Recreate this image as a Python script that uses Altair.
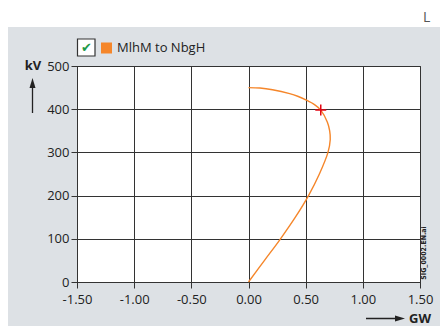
import json
import altair as alt
import pandas as pd

# ---- data ----
SERIES = ["MlhM to NbgH"]
GW = [0.00, 0.10, 0.21, 0.36, 0.43, 0.506, 0.58, 0.632, 0.69, 0.71, 0.715,
      0.695, 0.62, 0.525, 0.41, 0.28, 0.14, 0.00]
KV = [450, 449, 445, 436, 430, 421, 410, 398, 370, 350, 330,
      300, 250, 200, 150, 100, 50, 0]
MARK_GW = [0.632]
MARK_KV = [398]

X_TICK_VALUES = [-1.5, -1.25, -1.0, -0.75, -0.5, -0.25, 0.0, 0.25, 0.5, 0.75, 1.0, 1.25, 1.5]
X_TICK_LABELS = ["-1.50", "", "-1.00", "", "-0.50", "", "0.00", "", "0.50", "", "1.00", "", "1.50"]
Y_TICK_VALUES = [0, 100, 200, 300, 400, 500]

X_TITLE = "GW"
Y_TITLE = "kV"
SIDE_NOTE = "SIG_0002.EN.ai"
CORNER = "L"

FONT = "Open Sans"
ORANGE = "#f5862a"
GREY_BG = "#dde1e5"
DARK = "#333333"

curve = pd.DataFrame({"gw": GW, "kv": KV, "order": range(len(GW)), "series": SERIES[0]})
marker = pd.DataFrame({"gw": MARK_GW, "kv": MARK_KV})
one = pd.DataFrame({"k": [0]})

xscale = alt.Scale(domain=[-1.5, 1.5], nice=False, zero=False)
yscale = alt.Scale(domain=[0, 500], nice=False)

label_expr = f"{json.dumps(X_TICK_LABELS)}[indexof({json.dumps(X_TICK_VALUES)}, datum.value)]"

xaxis = alt.Axis(
    values=X_TICK_VALUES, labelExpr=label_expr, title=None,
    grid=True, gridColor=DARK, gridWidth=1,
    gridOpacity={"condition": {"test": "datum.value % 0.5 != 0", "value": 0}, "value": 1},
    tickSize=6, tickColor=DARK, domainColor=DARK,
    labelFont=FONT, labelFontSize=13, labelColor="#222222", labelPadding=5,
    labelFlush=False, labelOverlap=False,
)
yaxis = alt.Axis(
    values=Y_TICK_VALUES, title=None, format="d",
    grid=True, gridColor=DARK, gridWidth=1,
    tickSize=6, tickColor=DARK, domainColor=DARK,
    labelFont=FONT, labelFontSize=13, labelColor="#222222", labelPadding=2,
)

line = alt.Chart(curve).mark_line(
    color=ORANGE, strokeWidth=1.4, interpolate="catmull-rom"
).encode(
    x=alt.X("gw:Q", scale=xscale, axis=xaxis),
    y=alt.Y("kv:Q", scale=yscale, axis=yaxis),
    order="order:O",
)

cross = alt.Chart(marker).mark_point(
    shape="M-1,0L1,0M0,-1L0,1", size=121, filled=False,
    stroke="#e30613", strokeWidth=1.5, opacity=1,
).encode(x=alt.X("gw:Q", scale=xscale), y=alt.Y("kv:Q", scale=yscale))

# top white strip above the grey panel
strip = alt.Chart(one).mark_rect(color="white").encode(
    x=alt.value(-69), x2=alt.value(363), y=alt.value(-58), y2=alt.value(-39)
)
corner = alt.Chart(one).mark_text(
    text=CORNER, font=FONT, fontSize=14, color="#555555", align="left", baseline="middle"
).encode(x=alt.value(346), y=alt.value(-48))

# legend: checkbox, swatch, label
box = alt.Chart(one).mark_rect(fill="white", stroke=DARK, strokeWidth=1.2).encode(
    x=alt.value(0.5), x2=alt.value(18), y=alt.value(-27), y2=alt.value(-10)
)
check = alt.Chart(one).mark_text(
    text="\u2714", font="DejaVu Sans", fontSize=13, color="#1d9a48",
    align="center", baseline="middle"
).encode(x=alt.value(9.5), y=alt.value(-18))
swatch = alt.Chart(one).mark_square(size=121, color=ORANGE, opacity=1).encode(
    x=alt.value(29.5), y=alt.value(-18)
)
leg_text = alt.Chart(one).mark_text(
    text=SERIES[0], font=FONT, fontSize=13, color="#222222", align="left", baseline="middle"
).encode(x=alt.value(40), y=alt.value(-18.5))

# axis titles with arrows
ktitle = alt.Chart(one).mark_text(
    text=Y_TITLE, font=FONT, fontSize=13, fontWeight="bold", color="#222222",
    align="center", baseline="middle"
).encode(x=alt.value(-44), y=alt.value(0))
up_shaft = alt.Chart(one).mark_rule(color="#222222", strokeWidth=1.3).encode(
    x=alt.value(-44.5), y=alt.value(17), y2=alt.value(47)
)
up_head = alt.Chart(one).mark_point(
    shape="M0,-1L0.6,1L-0.6,1Z", size=100, filled=True, color="#222222", opacity=1
).encode(x=alt.value(-44.5), y=alt.value(17))

gtitle = alt.Chart(one).mark_text(
    text=X_TITLE, font=FONT, fontSize=13, fontWeight="bold", color="#222222",
    align="left", baseline="middle"
).encode(x=alt.value(332), y=alt.value(252.5))
right_shaft = alt.Chart(one).mark_rule(color="#222222", strokeWidth=1.3).encode(
    x=alt.value(289), x2=alt.value(322), y=alt.value(252.5)
)
right_head = alt.Chart(one).mark_point(
    shape="M1,0L-1,0.6L-1,-0.6Z", size=100, filled=True, color="#222222", opacity=1
).encode(x=alt.value(323), y=alt.value(252.5))

note = alt.Chart(one).mark_text(
    text=SIDE_NOTE, font="DejaVu Sans Condensed", fontSize=7, fontWeight="bold",
    color="#222222", angle=270, align="center", baseline="middle"
).encode(x=alt.value(346.5), y=alt.value(187))

chart = alt.layer(
    line, cross, strip, corner, box, check, swatch, leg_text,
    ktitle, up_shaft, up_head, gtitle, right_shaft, right_head, note
).properties(
    width=343, height=216,
    autosize=alt.AutoSizeParams(type="none"),
    padding={"left": 69, "top": 58, "right": 20, "bottom": 44},
    background=GREY_BG,
).configure_view(
    fill="white", stroke=DARK, strokeWidth=1
)

chart.save("out.html", embed_options={"renderer": "svg", "actions": False})
